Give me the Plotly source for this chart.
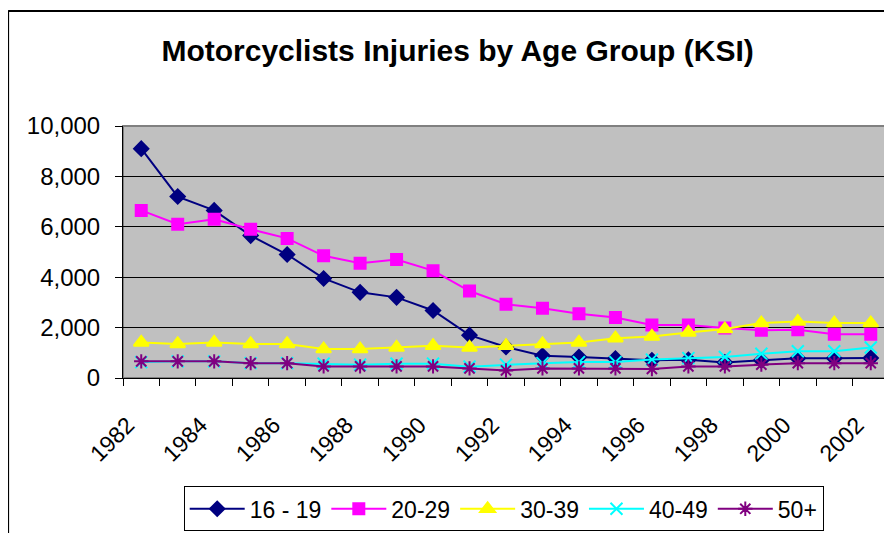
import plotly.graph_objects as go

years = [str(y) for y in range(1982, 2003)]
year_labels = [y + "\u00a0\u00a0\u00a0" if int(y) % 2 == 0 else "" for y in years]

age_16_19 = [9100, 7200, 6650, 5650, 4900, 3950, 3400, 3200, 2680, 1700, 1230,
             880, 830, 770, 700, 720, 620, 700, 780, 780, 790]
age_20_29 = [6650, 6100, 6300, 5900, 5540, 4850, 4550, 4700, 4260, 3450, 2930,
             2770, 2550, 2400, 2100, 2100, 1980, 1890, 1910, 1740, 1740]
age_30_39 = [1410, 1350, 1410, 1350, 1350, 1150, 1150, 1210, 1280, 1210, 1280,
             1350, 1410, 1580, 1650, 1810, 1940, 2180, 2240, 2180, 2180]
age_40_49 = [630, 660, 660, 590, 590, 570, 530, 570, 570, 450, 530,
             590, 630, 630, 730, 790, 830, 960, 1060, 1060, 1210]
age_50_plus = [660, 660, 660, 590, 590, 460, 460, 460, 460, 380, 300,
               380, 380, 380, 360, 460, 460, 530, 590, 590, 590]

series = [
    ("16 - 19", age_16_19, "#000080", "diamond", 11),
    ("20-29", age_20_29, "#FF00FF", "square", 11),
    ("30-39", age_30_39, "#FFFF00", "triangle-up", 13),
    ("40-49", age_40_49, "#00FFFF", "x-thin-open", 12),
    ("50+", age_50_plus, "#800080", "asterisk-open", 12),
]

fig = go.Figure()
for name, vals, color, symbol, size in series:
    fig.add_trace(go.Scatter(
        x=years, y=vals, name=name, mode="lines+markers",
        line=dict(color=color, width=2),
        marker=dict(symbol=symbol, size=size, color=color,
                    line=dict(color=color, width=2)),
    ))

font = "Arial, Liberation Sans, sans-serif"

# the page body has an 8px margin, so everything is laid out 8px up/left
fig.update_layout(
    width=892, height=533,
    margin=dict(l=115, r=11, t=118, b=163, autoexpand=False),
    paper_bgcolor="white", plot_bgcolor="#C0C0C0",
    font=dict(family=font, size=23, color="black"),
    title=dict(text="<b>Motorcyclists Injuries by Age Group (KSI)</b>",
               font=dict(size=30), x=0.504, xanchor="center",
               y=0.921, yanchor="middle"),
    showlegend=True,
    legend=dict(orientation="h", x=0.497, xanchor="center", y=-0.43, yanchor="top",
                bordercolor="black", borderwidth=1, bgcolor="white",
                font=dict(size=23), itemwidth=55, tracegroupgap=0),
)

fig.update_xaxes(type="category", range=[-0.5, 20.5], tickvals=years,
                 ticktext=year_labels, tickson="boundaries", ticks="outside",
                 ticklen=7, tickcolor="black", tickangle=-45,
                 tickfont=dict(size=23), ticklabelstandoff=10,
                 showgrid=False, showline=True, linecolor="black",
                 linewidth=1, zeroline=False)
fig.update_yaxes(range=[0, 10000], dtick=2000, tickformat=",", ticks="outside",
                 ticklen=7, tickcolor="black", tickfont=dict(size=24),
                 showgrid=True, gridcolor="black", gridwidth=1, showline=True,
                 linecolor="black", linewidth=1, zeroline=False,
                 ticklabelstandoff=10)

# plot-area border and the outer chart frame
fig.add_shape(type="rect", xref="paper", yref="paper", x0=0, x1=1, y0=0, y1=1,
              line=dict(color="#808080", width=2), layer="below")
fig.add_shape(type="line", xref="paper", yref="paper", x0=-0.150, x1=-0.150,
              y0=-0.7, y1=1.456, line=dict(color="black", width=2))
fig.add_shape(type="line", xref="paper", yref="paper", x0=-0.150, x1=1.02,
              y0=1.456, y1=1.456, line=dict(color="black", width=2))

fig.write_html("out.html")
